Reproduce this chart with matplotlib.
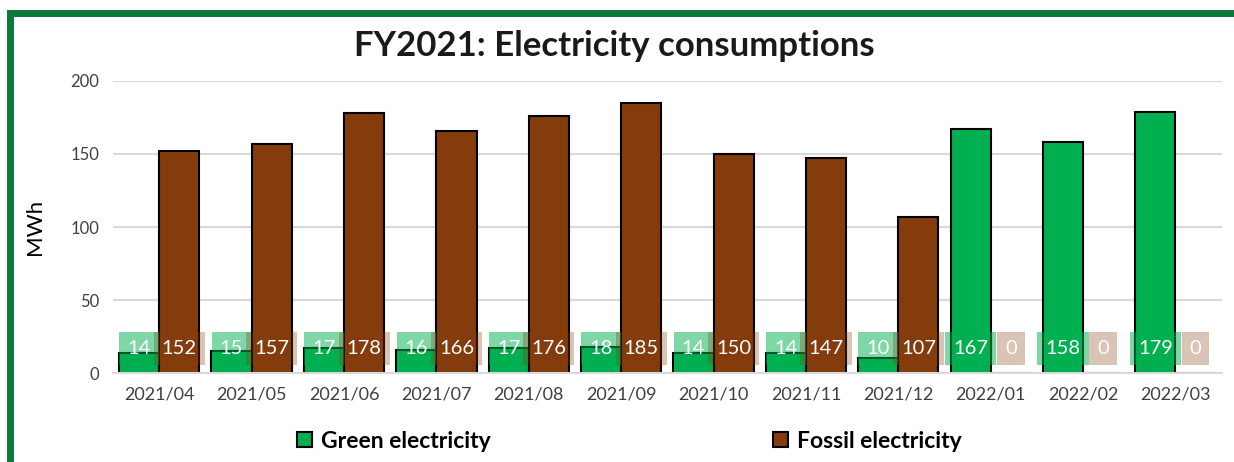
import matplotlib.pyplot as plt
import numpy as np
from matplotlib.patches import Rectangle, Patch

plt.rcParams["font.family"] = ["Lato", "DejaVu Sans"]

# 月ごとの電力消費量 (MWh)
months = ["2021/04", "2021/05", "2021/06", "2021/07", "2021/08", "2021/09",
          "2021/10", "2021/11", "2021/12", "2022/01", "2022/02", "2022/03"]
green = [14, 15, 17, 16, 17, 18, 14, 14, 10, 167, 158, 179]
fossil = [152, 157, 178, 166, 176, 185, 150, 147, 107, 0, 0, 0]

green_color = "#00b050"
fossil_color = "#843c0c"

fig = plt.figure(figsize=(12.34, 4.62), dpi=100)
ax = fig.add_axes([0.0916, 0.1926, 0.8984, 0.6321])

x = np.arange(len(months))
w = 0.435
ax.bar(x - w / 2, green, w, color=green_color, edgecolor="black", linewidth=1.5, zorder=2)
ax.bar(x + w / 2, fossil, w, color=fossil_color, edgecolor="black", linewidth=1.5, zorder=2)

# データラベル（半透明の背景付き）
label_y = 17
for i in range(len(months)):
    ax.text(x[i] - w / 2, label_y, str(green[i]), ha="center", va="center",
            color="white", fontsize=14.5, zorder=3,
            bbox=dict(boxstyle="square,pad=0.4", facecolor=green_color,
                      edgecolor="none", alpha=0.5))
    ax.text(x[i] + w / 2, label_y, str(fossil[i]), ha="center", va="center",
            color="white", fontsize=14.5, zorder=3,
            bbox=dict(boxstyle="square,pad=0.4", facecolor=fossil_color,
                      edgecolor="none", alpha=0.3))

ax.set_xlim(-0.5, len(months) - 0.5)
ax.set_ylim(0, 200)
ax.set_yticks([0, 50, 100, 150, 200])
ax.set_xticks(x)
ax.set_xticklabels(months)
ax.tick_params(axis="x", length=0, labelsize=13, labelcolor="#404040", pad=10)
ax.tick_params(axis="y", length=0, labelsize=12, labelcolor="#404040", pad=10)
ax.grid(axis="y", color="#d9d9d9", linewidth=1.5, zorder=0)
ax.set_axisbelow(True)
for s in ["top", "right", "left"]:
    ax.spines[s].set_visible(False)
ax.spines["bottom"].set_color("#d9d9d9")
ax.spines["bottom"].set_linewidth(1.5)
ax.set_ylabel("MWh", fontsize=16, labelpad=18)

fig.text(0.498, 0.9, "FY2021: Electricity consumptions", ha="center", va="center",
         fontsize=25, fontweight="bold", color="#1a1a1a")

handles = [Patch(facecolor=green_color, edgecolor="black", linewidth=1.5),
           Patch(facecolor=fossil_color, edgecolor="black", linewidth=1.5)]
fig.legend(handles, ["Green electricity", "Fossil electricity"], loc="center",
           bbox_to_anchor=(0.51, 0.045), ncol=2, frameon=False,
           prop={"size": 16.5, "weight": "bold"}, handlelength=0.65, handleheight=0.65,
           handletextpad=0.4, columnspacing=12.3)

# 緑の枠線
border = "#0b7a3a"
fig.patches.append(Rectangle((7 / 1234, 1 - 17 / 462), 1, 7 / 462, transform=fig.transFigure,
                             facecolor=border, edgecolor="none"))
fig.patches.append(Rectangle((7 / 1234, 0), 7 / 1234, 1 - 10 / 462, transform=fig.transFigure,
                             facecolor=border, edgecolor="none"))

fig.savefig("out.png", dpi=100)
